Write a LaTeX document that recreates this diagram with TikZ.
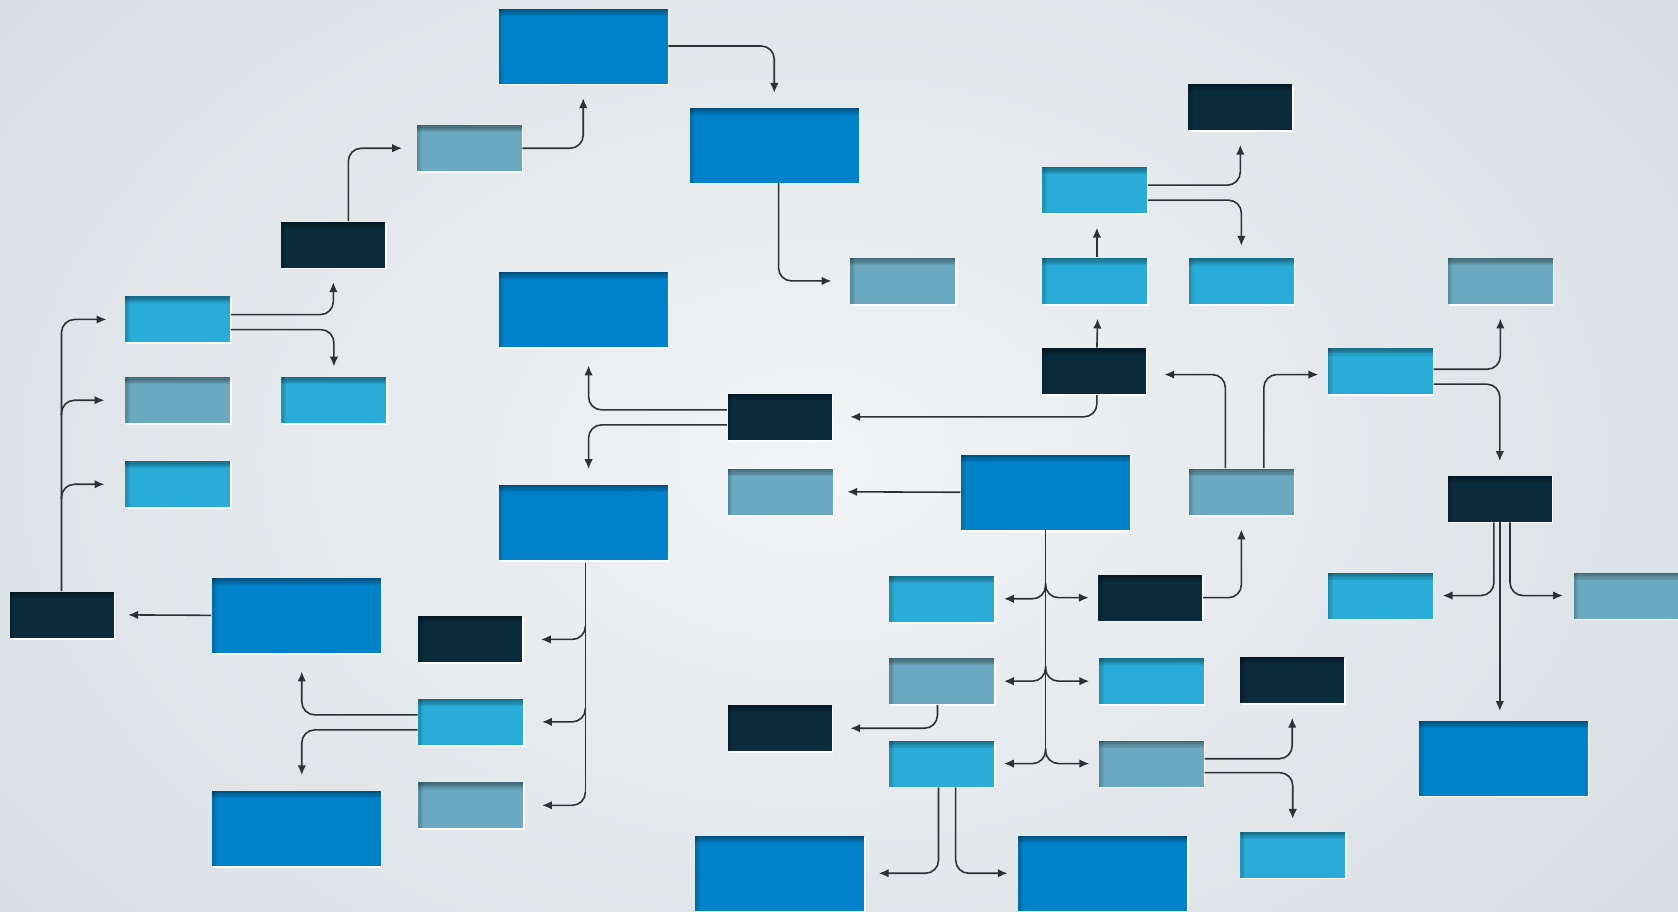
\documentclass[tikz,border=0pt]{standalone}
\usetikzlibrary{calc}
\usetikzlibrary{arrows.meta}

\definecolor{bigblue}{RGB}{0,130,202}
\definecolor{lightblue}{RGB}{41,173,216}
\definecolor{steelblue}{RGB}{106,169,191}
\definecolor{darkblue}{RGB}{10,44,61}
\definecolor{bgin}{RGB}{242,244,246}
\definecolor{bgout}{RGB}{207,215,220}
\definecolor{linegray}{RGB}{45,48,52}

\begin{document}
\begin{tikzpicture}[
    x=0.10702mm, y=-0.10702mm,
    box/.style={rectangle,inner sep=0pt,fill=#1,
      preaction={fill=white,transform canvas={xshift=0.4pt,yshift=-0.5pt}},
      path picture={
        \foreach \k in {1,...,6}
          \fill[black,opacity=0.07] (path picture bounding box.north west) rectangle ([yshift=-\k*0.12mm]path picture bounding box.north east);
        \foreach \k in {1,...,4}
          \fill[black,opacity=0.05] (path picture bounding box.north west) rectangle ([xshift=\k*0.12mm]path picture bounding box.south west);
      }},
    big/.style={box=bigblue,minimum width=16.9mm,minimum height=7.5mm},
    lb/.style={box=lightblue,minimum width=10.5mm,minimum height=4.6mm},
    st/.style={box=steelblue,minimum width=10.5mm,minimum height=4.6mm},
    dk/.style={box=darkblue,minimum width=10.4mm,minimum height=4.6mm},
    arr/.style={draw=linegray,line width=0.45pt,rounded corners=1.3mm,-{Latex[length=2.8pt,width=2.4pt]},shorten >=1.4mm},
    trunk/.style={draw=linegray,line width=0.45pt}
    ]
    \useasboundingbox (0,0) rectangle (1568,852);
    \clip (0,0) rectangle (1568,852);
    \shade[inner color=bgin,outer color=bgout] (760,430) ellipse (1300 and 900);

    % big boxes
    \node (big1) [big] at (545,43) {};
    \node (big2) [big] at (723.5,135.5) {};
    \node (big3) [big] at (545,289) {};
    \node (big4) [big] at (977,460) {};
    \node (big5) [big] at (545,488) {};
    \node (big6) [big] at (277,575) {};
    \node (big7) [big] at (277,774) {};
    \node (big8) [big] at (1405,708.5) {};
    \node (big9) [big] at (728.5,816) {};
    \node (big10) [big] at (1030.5,816) {};
    % light blue boxes
    \node (lb1) [lb] at (166,298.5) {};
    \node (lb2) [lb] at (312,374) {};
    \node (lb3) [lb] at (166,452.5) {};
    \node (lb4) [lb] at (1023,177.5) {};
    \node (lb5) [lb] at (1023,262.5) {};
    \node (lb6) [lb] at (1160,263) {};
    \node (lb7) [lb] at (1290,347) {};
    \node (lb8) [lb] at (440,674.5) {};
    \node (lb9) [lb] at (880,559.5) {};
    \node (lb10) [lb] at (1290,556.5) {};
    \node (lb11) [lb] at (1076,636.5) {};
    \node (lb12) [lb] at (880,713.5) {};
    \node (lb13) [lb] at (1208,798.5) {};
    % steel boxes
    \node (st1) [st] at (438.5,138.5) {};
    \node (st2) [st] at (166,374) {};
    \node (st3) [st] at (843.5,262.5) {};
    \node (st4) [st] at (1402,262.5) {};
    \node (st5) [st] at (729,459.5) {};
    \node (st6) [st] at (1160,459.5) {};
    \node (st7) [st] at (440,752.5) {};
    \node (st8) [st] at (1519.5,556.5) {};
    \node (st9) [st] at (880,636.5) {};
    \node (st10) [st] at (1076,713.5) {};
    % dark boxes
    \node (dk1) [dk] at (311.5,228.5) {};
    \node (dk2) [dk] at (1159,100) {};
    \node (dk3) [dk] at (1022,347) {};
    \node (dk4) [dk] at (728.5,389.5) {};
    \node (dk5) [dk] at (1401.5,466) {};
    \node (dk6) [dk] at (57.5,574.5) {};
    \node (dk7) [dk] at (439.5,597.5) {};
    \node (dk8) [dk] at (1075,558.5) {};
    \node (dk9) [dk] at (1207.5,635.5) {};
    \node (dk10) [dk] at (728.5,680.5) {};

    % top chain
    \draw[arr] (big1.east) -| (big2.north);
    \draw[arr] (st1.east) -| (big1.south);
    \draw[arr] ($(dk1.north)+(14,0)$) |- (st1.west);
    \draw[arr,shorten >=1.8mm] ($(big2.south)+(4,0)$) |- (st3.west);
    \draw[arr] ($(lb1.east)+(0,-4.5)$) -| (dk1.south);
    \draw[arr,shorten >=1mm] ($(lb1.east)+(0,9.5)$) -| (lb2.north);
    % left trunk
    \draw[arr,shorten >=1.8mm] (dk6.north) |- (lb1.west);
    \draw[arr,shorten >=2mm] ($(dk6.north |- st2.west)+(0,14)$) |- (st2.west);
    \draw[arr,shorten >=2mm] ($(dk6.north |- lb3.west)+(0,14)$) |- (lb3.west);
    \draw[arr] (big6.west) -- (dk6.east);
    % centre
    \draw[arr,shorten >=1.8mm] ($(dk4.west)+(0,-6.5)$) -| ($(big3.south)+(5,0)$);
    \draw[arr,shorten >=1.5mm] ($(dk4.west)+(0,7.5)$) -| ($(big5.north)+(5,0)$);
    \draw[arr,shorten >=1.8mm] ($(dk3.south)+(3,0)$) |- (dk4.east);
    \draw[arr] ($(dk3.north)+(3,0)$) -- ($(lb5.south)+(3,0)$);
    \draw[arr] ($(lb5.north)+(2,0)$) -- ($(lb4.south)+(2,0)$);
    \draw[arr] ($(lb4.east)+(0,-4.5)$) -| (dk2.south);
    \draw[arr,shorten >=1.2mm] ($(lb4.east)+(0,9.5)$) -| (lb6.north);
    \draw[arr] ($(lb7.east)+(0,-2)$) -| (st4.south);
    \draw[arr] ($(lb7.east)+(0,12)$) -| (dk5.north);
    \draw[arr,shorten >=1.8mm] ($(st6.north)+(-15,0)$) |- ($(dk3.east)+(0,3)$);
    \draw[arr,shorten >=0.9mm] ($(st6.north)+(21,0)$) |- ($(lb7.west)+(0,3)$);
    \draw[arr] (big4.west) -- (st5.east);
    \draw[arr] (dk8.east) -| (st6.south);
    % fork under big4
    \draw[trunk] (big4.south) -- ($(big4.south |- lb12.east)+(0,-14)$);
    \draw[arr,shorten >=0.9mm] ($(big4.south |- lb9.east)+(0,-14)$) |- (lb9.east);
    \draw[arr,shorten >=0.9mm] ($(big4.south |- dk8.west)+(0,-14)$) |- (dk8.west);
    \draw[arr,shorten >=0.9mm] ($(big4.south |- st9.east)+(0,-14)$) |- (st9.east);
    \draw[arr,shorten >=0.9mm] ($(big4.south |- lb11.west)+(0,-14)$) |- (lb11.west);
    \draw[arr,shorten >=0.9mm] ($(big4.south |- lb12.east)+(0,-14)$) |- (lb12.east);
    \draw[arr,shorten >=0.9mm] ($(big4.south |- st10.west)+(0,-14)$) |- (st10.west);
    \draw[arr,shorten >=1.8mm] ($(st9.south)+(-4,0)$) |- (dk10.east);
    \draw[arr] ($(st10.east)+(0,-4.5)$) -| (dk9.south);
    \draw[arr,shorten >=1.2mm] ($(st10.east)+(0,8.5)$) -| (lb13.north);
    \draw[arr] ($(lb12.south)+(-3,0)$) |- (big9.east);
    \draw[arr,shorten >=1mm] ($(lb12.south)+(13,0)$) |- (big10.west);
    % right side
    \draw[arr,shorten >=0.9mm] ($(dk5.south)+(-5.5,0)$) |- (lb10.east);
    \draw[arr,shorten >=0.9mm] (dk5.south) -- (big8.north -| dk5.south);
    \draw[arr,shorten >=1mm] ($(dk5.south)+(9.5,0)$) |- (st8.west);
    % fork under big5
    \draw[trunk] ($(big5.south)+(2,2)$) -- ($(big5.south |- st7.east)+(2,-13)$);
    \draw[arr,shorten >=1.8mm] ($(big5.south |- dk7.east)+(2,-13)$) |- (dk7.east);
    \draw[arr,shorten >=1.8mm] ($(big5.south |- lb8.east)+(2,-13)$) |- (lb8.east);
    \draw[arr,shorten >=1.8mm] ($(big5.south |- st7.east)+(2,-13)$) |- (st7.east);
    \draw[arr,shorten >=1.8mm] ($(lb8.west)+(0,-6.5)$) -| ($(big6.south)+(5,0)$);
    \draw[arr,shorten >=1.5mm] ($(lb8.west)+(0,7.5)$) -| ($(big7.north)+(5,0)$);
  \end{tikzpicture}
\end{document}
